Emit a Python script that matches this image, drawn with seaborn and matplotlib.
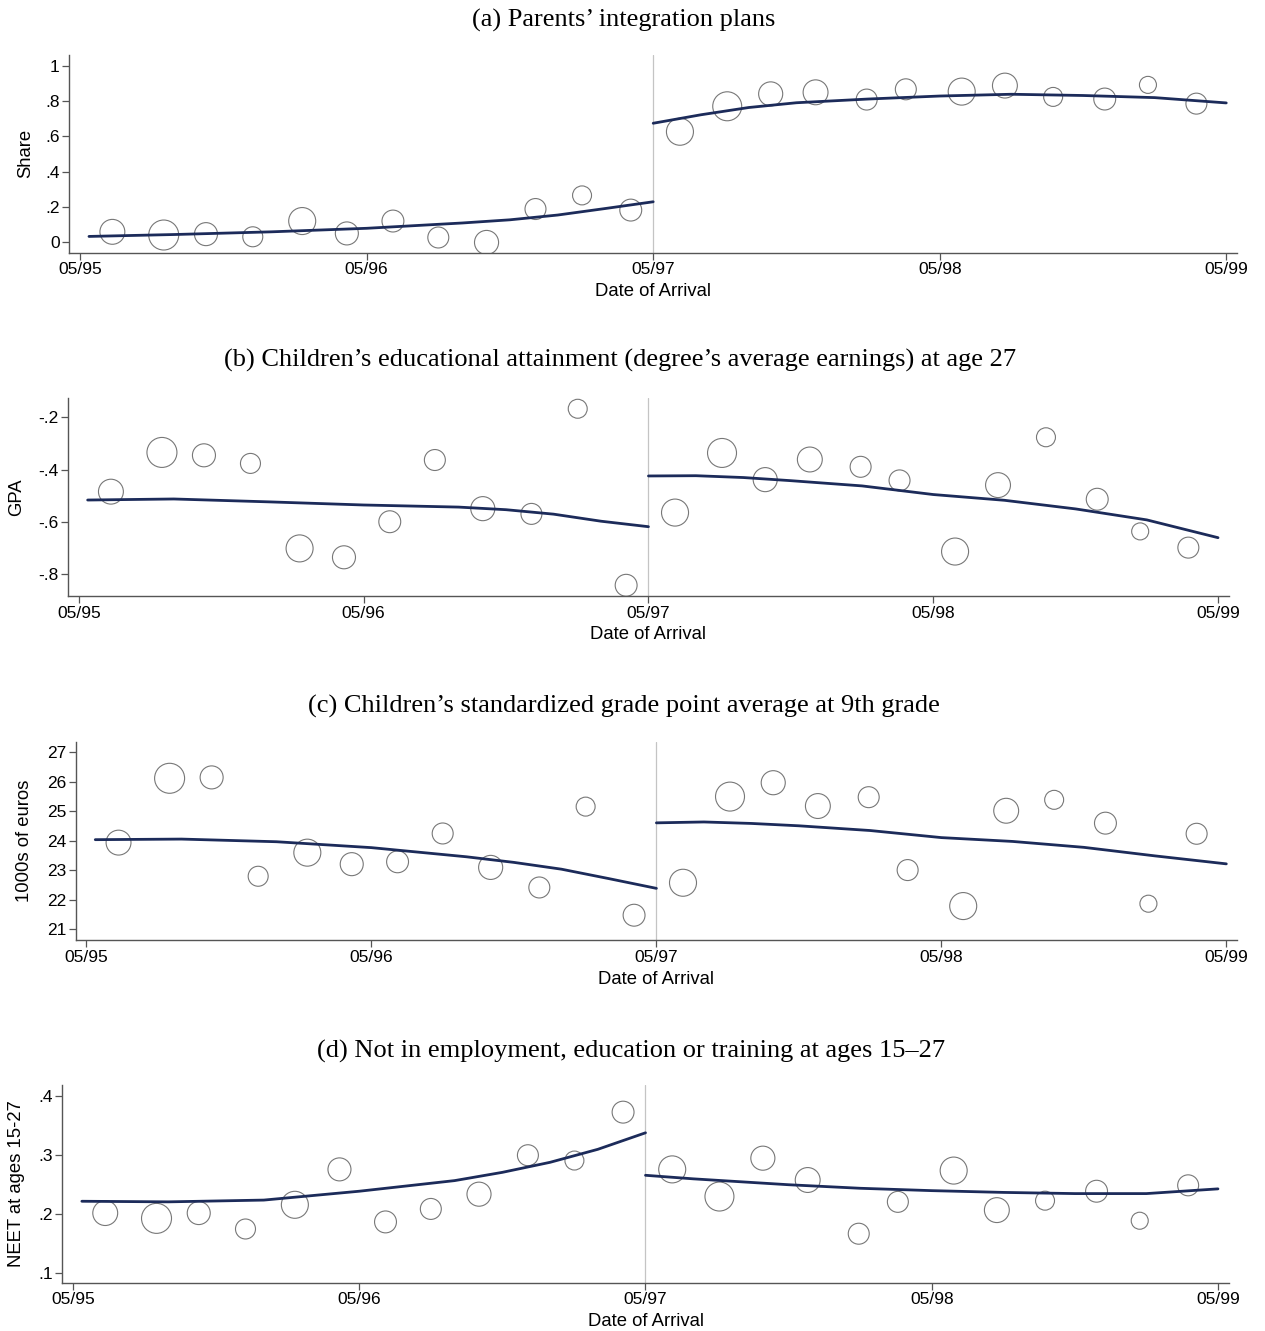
import numpy as np
import pandas as pd
import matplotlib
matplotlib.use("Agg")
import matplotlib.pyplot as plt
import seaborn as sns

# ---------------- data ----------------
# bin centres (months since 05/95); 12 bins before, 12 after 05/97
bin_month = [1.35, 3.5, 5.27, 7.23, 9.3, 11.17, 13.1, 15.0, 17.02, 19.07, 21.02, 23.06,
             25.12, 27.1, 28.92, 30.8, 32.94, 34.58, 36.92, 38.73, 40.75, 42.91, 44.72, 46.75]
# relative number of observations per bin (marker area)
bin_weight = [62, 90, 53, 40, 73, 53, 48, 44, 58, 44, 36, 48,
              73, 84, 58, 62, 44, 44, 73, 62, 36, 48, 29, 44]

share = [0.060, 0.042, 0.047, 0.032, 0.121, 0.051, 0.121, 0.028, 0.000, 0.189, 0.266, 0.183,
         0.626, 0.770, 0.840, 0.849, 0.808, 0.866, 0.853, 0.887, 0.823, 0.811, 0.891, 0.785]
gpa = [-0.484, -0.334, -0.345, -0.376, -0.701, -0.735, -0.599, -0.363, -0.549, -0.569, -0.167, -0.842,
       -0.564, -0.336, -0.438, -0.361, -0.389, -0.441, -0.713, -0.459, -0.276, -0.513, -0.636, -0.698]
earnings = [23.93, 26.11, 26.14, 22.79, 23.59, 23.20, 23.28, 24.24, 23.09, 22.41, 25.15, 21.47,
            22.57, 25.49, 25.96, 25.17, 25.47, 23.00, 21.78, 25.01, 25.38, 24.59, 21.86, 24.23]
neet = [0.201, 0.192, 0.201, 0.174, 0.215, 0.275, 0.186, 0.208, 0.233, 0.299, 0.290, 0.372,
        0.275, 0.229, 0.294, 0.257, 0.166, 0.220, 0.273, 0.206, 0.222, 0.238, 0.188, 0.248]

# fitted curves
fit_pre_x = [0.37, 4, 8, 12, 16, 18, 20, 22, 24]
fit_post_x = [24, 26, 28, 30, 33, 36, 39, 42, 45, 48]
share_fit_pre = [0.034, 0.045, 0.060, 0.080, 0.110, 0.128, 0.155, 0.192, 0.230]
share_fit_post = [0.674, 0.722, 0.763, 0.790, 0.811, 0.828, 0.838, 0.831, 0.819, 0.789]
gpa_fit_pre = [-0.516, -0.512, -0.523, -0.535, -0.543, -0.553, -0.570, -0.597, -0.618]
gpa_fit_post = [-0.424, -0.423, -0.430, -0.442, -0.462, -0.495, -0.517, -0.550, -0.592, -0.660]
earn_fit_pre = [24.03, 24.05, 23.96, 23.76, 23.45, 23.26, 23.03, 22.71, 22.38]
earn_fit_post = [24.60, 24.63, 24.58, 24.50, 24.34, 24.10, 23.97, 23.77, 23.48, 23.21]
neet_fit_pre = [0.221, 0.220, 0.223, 0.238, 0.256, 0.270, 0.287, 0.309, 0.337]
neet_fit_post = [0.265, 0.259, 0.254, 0.249, 0.243, 0.239, 0.236, 0.234, 0.234, 0.242]

x_ticks = [0, 12, 24, 36, 48]
x_tick_labels = ["05/95", "05/96", "05/97", "05/98", "05/99"]
cutoff = 24

titles = ["(a) Parents\u2019 integration plans",
          "(b) Children\u2019s educational attainment (degree\u2019s average earnings) at age 27",
          "(c) Children\u2019s standardized grade point average at 9th grade",
          "(d) Not in employment, education or training at ages 15\u201327"]
y_labels = ["Share", "GPA", "1000s of euros", "NEET at ages 15-27"]
share_ticks, share_tick_labels = [0, 0.2, 0.4, 0.6, 0.8, 1], ["0", ".2", ".4", ".6", ".8", "1"]
gpa_ticks, gpa_tick_labels = [-0.8, -0.6, -0.4, -0.2], ["-.8", "-.6", "-.4", "-.2"]
earn_ticks, earn_tick_labels = [21, 22, 23, 24, 25, 26, 27], ["21", "22", "23", "24", "25", "26", "27"]
neet_ticks, neet_tick_labels = [0.1, 0.2, 0.3, 0.4], [".1", ".2", ".3", ".4"]

# ---------------- layout ----------------
W, H = 1265, 1331
sns.set_theme(style="white")
plt.rcParams["font.family"] = ["Liberation Sans", "DejaVu Sans"]

fig = plt.figure(figsize=(W / 100, H / 100), dpi=100)
fig.patch.set_facecolor("white")

# left, right, top, bottom in pixels
boxes = [(69.4, 1237, 55, 252.7),
         (68.2, 1228.7, 398.3, 596),
         (75.8, 1237, 741.7, 940),
         (62.3, 1228.7, 1085, 1282.7)]
ylims = [(-0.058, 1.06), (-0.883, -0.127), (20.63, 27.35), (0.083, 0.418)]
title_baseline = [26.5, 366.5, 712.5, 1057.5]
title_center = [624, 620, 624, 631]
ylabel_x = [34, 25, 33, 25]

panels = [
    (share, share_fit_pre, share_fit_post, share_ticks, share_tick_labels),
    (gpa, gpa_fit_pre, gpa_fit_post, gpa_ticks, gpa_tick_labels),
    (earnings, earn_fit_pre, earn_fit_post, earn_ticks, earn_tick_labels),
    (neet, neet_fit_pre, neet_fit_post, neet_ticks, neet_tick_labels),
]

navy = "#1c2b5a"
spine_col = "#555555"

for i, (yvals, fpre, fpost, yt, ytl) in enumerate(panels):
    l, r, t, b = boxes[i]
    ax = fig.add_axes([l / W, 1 - b / H, (r - l) / W, (b - t) / H])
    df = pd.DataFrame({"month": bin_month, "value": yvals, "w": bin_weight})
    sns.scatterplot(data=df, x="month", y="value", size="w",
                    sizes=(5.18 * 29, 5.18 * 90), size_norm=(29, 90),
                    facecolor="none", edgecolor="#777777", linewidth=0.8,
                    legend=False, ax=ax, zorder=2)
    sns.lineplot(x=fit_pre_x, y=fpre, color=navy, linewidth=2.0, ax=ax, zorder=3)
    sns.lineplot(x=fit_post_x, y=fpost, color=navy, linewidth=2.0, ax=ax, zorder=3)
    ax.axvline(cutoff, color="#c4c4c4", linewidth=0.9, zorder=1)

    ax.set_xlim(-0.45, 48.45)
    ax.set_ylim(*ylims[i])
    ax.set_xticks(x_ticks, x_tick_labels)
    ax.set_yticks(yt, ytl)
    for s in ["top", "right"]:
        ax.spines[s].set_visible(False)
    for s in ["left", "bottom"]:
        ax.spines[s].set_color(spine_col)
        ax.spines[s].set_linewidth(1.0)
    ax.tick_params(axis="both", which="major", length=5, width=0.9, color=spine_col,
                   labelsize=12.5, labelcolor="black", pad=2, left=True, bottom=True)

    ax.set_xlabel("Date of Arrival", fontsize=13.3, color="black")
    ax.xaxis.label.set_va("baseline")
    ax.xaxis.set_label_coords(0.5, -43.5 / (b - t))
    ax.set_ylabel(y_labels[i], fontsize=13.3, color="black")
    ax.yaxis.set_label_coords((ylabel_x[i] - l) / (r - l), 0.5)
    ax.grid(False)

    fig.text(title_center[i] / W, 1 - title_baseline[i] / H, titles[i], ha="center",
             va="baseline", fontsize=19, family=["Liberation Serif", "DejaVu Serif"],
             color="black")

fig.savefig("out.png", dpi=100, facecolor="white")
